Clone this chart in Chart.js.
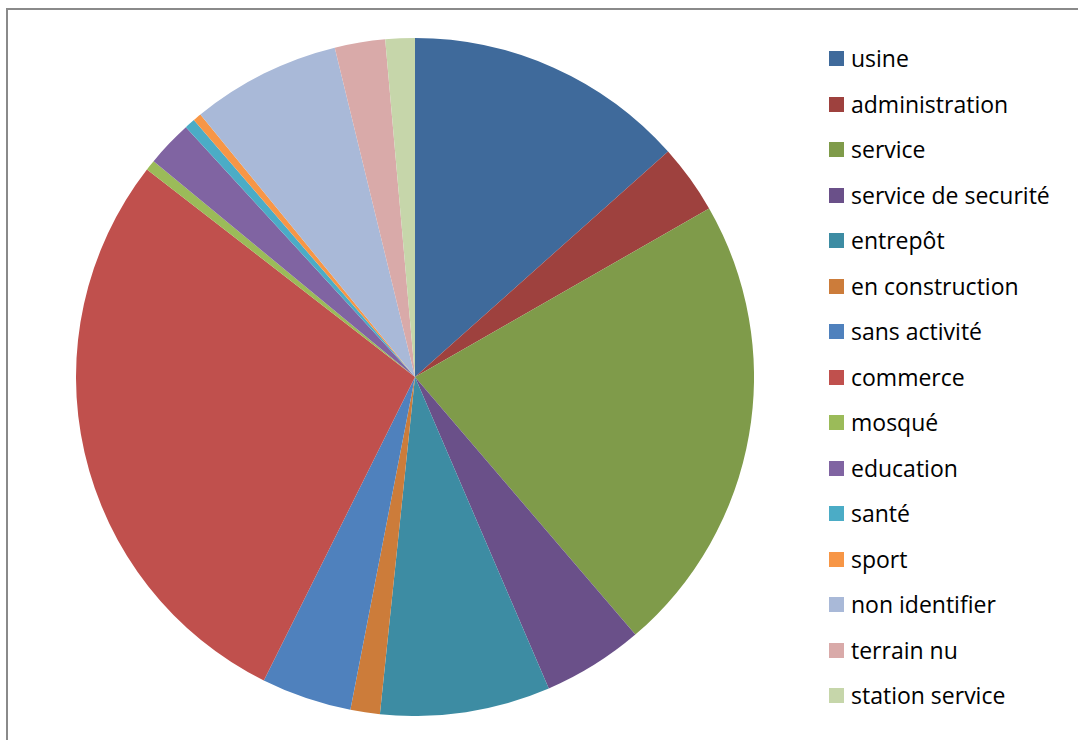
<!DOCTYPE html>
<html>
<head>
<meta charset="utf-8">
<script src="https://cdn.jsdelivr.net/npm/chart.js@4/dist/chart.umd.min.js"></script>
<style>
  html, body { margin: 0; padding: 0; background: #fff; }
  body { width: 1078px; height: 740px; position: relative; overflow: hidden; font-family: "Open Sans", Lato, sans-serif; }
  #frame { position: absolute; left: 6px; top: 8px; width: 1200px; height: 900px;
    border-top: 2px solid #8a8a8a; border-left: 2px solid #8a8a8a; }
  #pieBox { position: absolute; left: 76px; top: 38px; width: 678px; height: 678px; }
  #legend { position: absolute; left: 829px; top: 0; }
  .leg-row { position: absolute; left: 0; height: 24px; white-space: nowrap; }
  .leg-row span.sw { position: absolute; left: 0; top: 5px; width: 15px; height: 15px; }
  .leg-row span.tx { position: absolute; left: 22px; top: 0; font-size: 23px; line-height: 24px; color: #000; }
</style>
</head>
<body>
<div id="frame"></div>
<div id="pieBox"><canvas id="pie" width="678" height="678"></canvas></div>
<div id="legend"></div>
<script>
  "use strict";

  // catégories (ordre de la légende, sens horaire depuis midi)
  var CATEGORIES = [
    "usine", "administration", "service", "service de securité", "entrepôt",
    "en construction", "sans activité", "commerce", "mosqué", "education",
    "santé", "sport", "non identifier", "terrain nu", "station service"
  ];

  // parts (%)
  var VALUES = [13.4, 3.3, 22.0, 4.8, 8.1, 1.4, 4.3, 28.1, 0.5, 2.2, 0.5, 0.4, 7.1, 2.4, 1.4];

  var COLORS = [
    "#3f6a9b", "#9e413e", "#7f9b4a", "#6a5089", "#3d8ca3",
    "#cc7c3a", "#4f81bd", "#c0504d", "#9bbb59", "#8064a2",
    "#4bacc6", "#f79646", "#a9b9d8", "#d9aaa9", "#c6d6aa"
  ];

  // légende html
  var leg = document.getElementById("legend");
  var html = "";
  CATEGORIES.forEach(function (c, i) {
    var y = 58 + i * 45.5 - 12;
    html += '<div class="leg-row" style="top:' + y + 'px">' +
      '<span class="sw" style="background:' + COLORS[i] + '"></span>' +
      '<span class="tx">' + c + '</span></div>';
  });
  leg.innerHTML = html;

  new Chart(document.getElementById("pie"), {
    type: "pie",
    data: {
      labels: CATEGORIES,
      datasets: [{ data: VALUES, backgroundColor: COLORS, borderWidth: 0 }]
    },
    options: {
      responsive: false,
      animation: false,
      layout: { padding: 0 },
      plugins: { legend: { display: false }, tooltip: { enabled: false } }
    }
  });
</script>
</body>
</html>
